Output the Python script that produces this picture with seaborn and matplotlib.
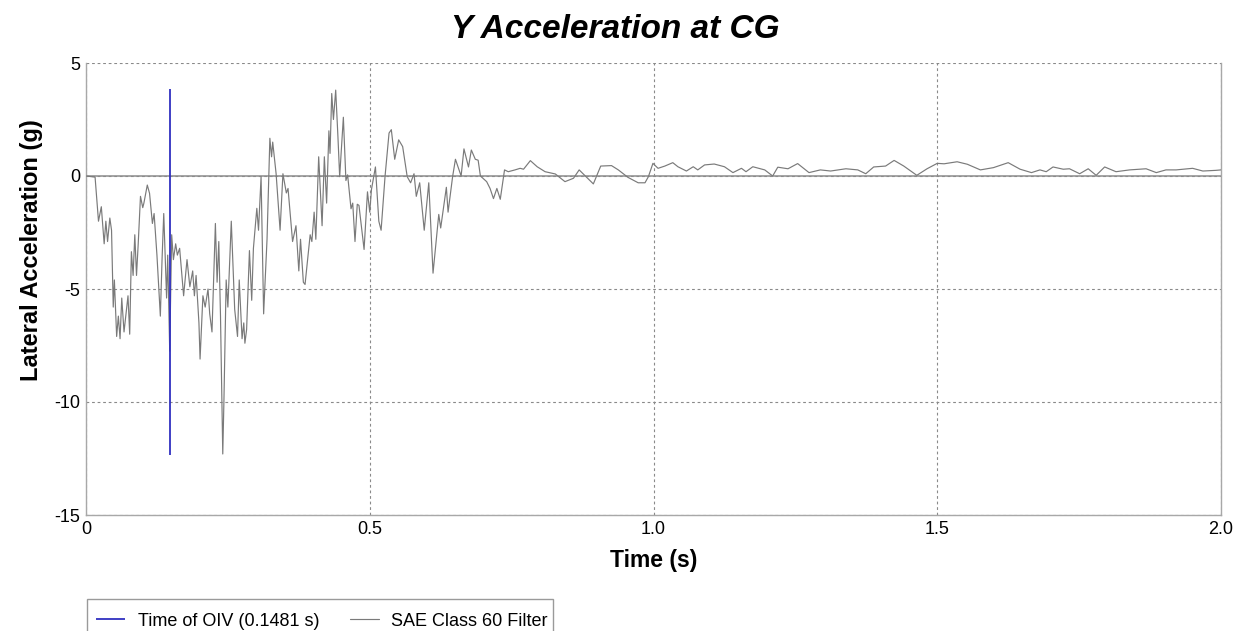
import matplotlib
matplotlib.use("Agg")
import matplotlib.pyplot as plt
import seaborn as sns
import pandas as pd
from matplotlib.ticker import MultipleLocator
from matplotlib.patches import Rectangle

# ---- data ----
time_s = [0.000, 0.016, 0.022, 0.027, 0.032, 0.035, 0.038, 0.042, 0.045, 0.048,
          0.050, 0.054, 0.057, 0.060, 0.063, 0.067, 0.074, 0.077, 0.080, 0.083,
          0.086, 0.089, 0.092, 0.096, 0.100, 0.102, 0.108, 0.112, 0.117, 0.120,
          0.125, 0.131, 0.134, 0.137, 0.142, 0.144, 0.1475, 0.151, 0.154, 0.158,
          0.161, 0.165, 0.172, 0.178, 0.183, 0.188, 0.191, 0.194, 0.199, 0.201,
          0.206, 0.210, 0.215, 0.218, 0.222, 0.225, 0.228, 0.231, 0.234, 0.237,
          0.241, 0.243, 0.247, 0.250, 0.256, 0.262, 0.267, 0.270, 0.275, 0.278,
          0.280, 0.283, 0.288, 0.292, 0.295, 0.301, 0.304, 0.3085, 0.313, 0.319,
          0.324, 0.327, 0.329, 0.335, 0.342, 0.347, 0.353, 0.356, 0.364, 0.370,
          0.375, 0.378, 0.383, 0.386, 0.395, 0.398, 0.402, 0.405, 0.410, 0.416,
          0.420, 0.424, 0.428, 0.430, 0.433, 0.436, 0.440, 0.444, 0.447, 0.4535,
          0.458, 0.461, 0.467, 0.470, 0.474, 0.478, 0.481, 0.490, 0.496, 0.500,
          0.503, 0.510, 0.516, 0.520, 0.527, 0.534, 0.538, 0.544, 0.551, 0.558,
          0.566, 0.572, 0.578, 0.582, 0.588, 0.596, 0.604, 0.6115, 0.6216, 0.625,
          0.635, 0.638, 0.646, 0.651, 0.661, 0.666, 0.674, 0.679, 0.686, 0.691,
          0.695, 0.706, 0.712, 0.718, 0.724, 0.730, 0.7375, 0.744, 0.756, 0.765,
          0.771, 0.783, 0.795, 0.809, 0.827, 0.844, 0.859, 0.869, 0.880, 0.894,
          0.907, 0.926, 0.938, 0.955, 0.973, 0.985, 0.991, 0.999, 1.008, 1.020,
          1.034, 1.043, 1.058, 1.070, 1.078, 1.090, 1.107, 1.125, 1.140, 1.155,
          1.163, 1.175, 1.196, 1.210, 1.219, 1.237, 1.254, 1.274, 1.294, 1.312,
          1.339, 1.360, 1.374, 1.388, 1.409, 1.424, 1.441, 1.464, 1.482, 1.500,
          1.512, 1.535, 1.553, 1.576, 1.599, 1.625, 1.646, 1.666, 1.681, 1.692,
          1.704, 1.722, 1.733, 1.751, 1.766, 1.780, 1.795, 1.815, 1.839, 1.868,
          1.886, 1.903, 1.921, 1.950, 1.968, 1.991, 2.000]

lateral_g = [0.0, -0.05, -2.0, -1.36, -3.0, -2.0, -2.9, -1.86, -2.4, -5.8,
             -4.6, -7.1, -6.2, -7.2, -5.4, -6.9, -5.3, -7.0, -3.35, -4.4,
             -2.6, -4.4, -3.0, -0.9, -1.4, -1.2, -0.4, -0.77, -2.1, -1.66,
             -3.5, -6.2, -3.7, -1.66, -5.4, -3.5, -7.75, -2.6, -3.7, -3.0,
             -3.5, -3.2, -5.3, -3.7, -4.9, -4.2, -5.3, -4.4, -6.5, -8.1,
             -5.3, -5.8, -5.0, -6.1, -6.9, -4.5, -2.1, -4.7, -2.9, -6.2,
             -12.3, -10.0, -4.6, -5.8, -2.0, -5.9, -7.1, -4.6, -7.2, -6.5,
             -7.4, -6.8, -3.3, -5.5, -3.2, -1.43, -2.4, -0.03, -6.1, -2.8,
             1.67, 0.85, 1.5, 0.1, -2.4, 0.1, -0.75, -0.55, -2.9, -2.2,
             -4.2, -2.8, -4.7, -4.8, -2.6, -2.9, -1.6, -2.8, 0.85, -2.2,
             0.85, -1.2, 2.0, 1.0, 3.65, 2.5, 3.8, 1.7, -0.03, 2.6,
             -0.2, 0.05, -1.45, -1.2, -2.9, -1.25, -1.3, -3.25, -0.7, -1.6,
             -0.6, 0.4, -2.0, -2.4, 0.0, 1.9, 2.05, 0.74, 1.6, 1.3,
             -0.03, -0.3, 0.1, -0.9, -0.3, -2.4, -0.3, -4.3, -1.7, -2.3,
             -0.5, -1.6, -0.03, 0.74, 0.0, 1.2, 0.4, 1.15, 0.74, 0.7,
             0.0, -0.25, -0.55, -1.0, -0.55, -1.03, 0.27, 0.19, 0.27, 0.34,
             0.3, 0.68, 0.41, 0.19, 0.09, -0.25, -0.1, 0.27, 0.0, -0.35,
             0.44, 0.46, 0.27, -0.06, -0.3, -0.3, -0.03, 0.56, 0.34, 0.44,
             0.59, 0.41, 0.22, 0.41, 0.27, 0.49, 0.53, 0.41, 0.15, 0.34,
             0.19, 0.41, 0.27, 0.0, 0.39, 0.32, 0.55, 0.15, 0.27, 0.22,
             0.32, 0.27, 0.1, 0.4, 0.44, 0.69, 0.44, 0.03, 0.32, 0.56,
             0.54, 0.63, 0.52, 0.27, 0.37, 0.59, 0.3, 0.15, 0.27, 0.19,
             0.4, 0.3, 0.32, 0.1, 0.32, 0.03, 0.4, 0.19, 0.27, 0.32,
             0.15, 0.27, 0.27, 0.34, 0.22, 0.25, 0.27]

oiv_time = 0.1481
oiv_range = [-12.35, 3.85]

title = "Y Acceleration at CG"
x_label = "Time (s)"
y_label = "Lateral Acceleration (g)"
x_ticks = [0, 0.5, 1.0, 1.5, 2.0]
x_tick_labels = ["0", "0.5", "1.0", "1.5", "2.0"]
y_ticks = [-15, -10, -5, 0, 5]
legend_labels = ["Time of OIV (0.1481 s)", "SAE Class 60 Filter"]

# ---- plot ----
sns.set_style("white")
plt.rcParams["font.family"] = ["Liberation Sans", "DejaVu Sans"]
plt.rcParams["axes.unicode_minus"] = False
plt.rcParams["text.color"] = "black"
plt.rcParams["axes.labelcolor"] = "black"

W, H = 1244, 631
fig = plt.figure(figsize=(W / 100, H / 100), dpi=100)
ax = fig.add_axes([86 / W, 1 - 515 / H, (1221 - 86) / W, (515 - 63) / H])

df = pd.DataFrame({"t": time_s, "a": lateral_g})

# zero reference line
ax.axhline(0, color="#8c8c8c", lw=1.1, zorder=2)

sns.lineplot(data=df, x="t", y="a", ax=ax, color="#7a7a7a", lw=0.85,
             estimator=None, sort=False, zorder=3, label=legend_labels[1])
ax.vlines(oiv_time, oiv_range[0], oiv_range[1], color="#3030c0", lw=1.3,
          zorder=4, label=legend_labels[0])

ax.set_xlim(0, 2.0)
ax.set_ylim(-15, 5)
ax.set_xticks(x_ticks)
ax.set_xticklabels(x_tick_labels)
ax.set_yticks(y_ticks)
ax.xaxis.set_minor_locator(MultipleLocator(0.1))
ax.yaxis.set_minor_locator(MultipleLocator(1))

ax.grid(True, which="major", linestyle=(0, (2.5, 2.5)), color="#8a8a8a", lw=0.8)
ax.tick_params(which="major", length=0, labelsize=13, pad=4, colors="black")
ax.tick_params(which="minor", direction="in", length=3, color="#9a9a9a", width=0.8)

for side in ["left", "bottom", "right"]:
    ax.spines[side].set_color("#a8a8a8")
    ax.spines[side].set_linewidth(1.0)
ax.spines["top"].set_visible(False)

ax.set_xlabel(x_label, fontsize=16.5, fontweight="bold", labelpad=8)
ax.set_ylabel(y_label, fontsize=17, fontweight="bold")
ax.yaxis.set_label_coords((43 - 86) / (1221 - 86), (515 - 250) / (515 - 63))
fig.suptitle(title, fontsize=24, fontweight="bold", fontstyle="italic",
             x=0.495, y=1 - 29 / H, va="center", color="black")

handles, labels = ax.get_legend_handles_labels()
order = [labels.index(legend_labels[0]), labels.index(legend_labels[1])]
leg = fig.legend([handles[i] for i in order], [labels[i] for i in order],
                 loc="center left", bbox_to_anchor=(96 / W, 1 - 621 / H),
                 borderaxespad=0, borderpad=0, ncol=2, frameon=False,
                 fontsize=13, handlelength=1.6, handletextpad=0.7,
                 columnspacing=1.7)
if ax.get_legend() is not None:
    ax.get_legend().remove()
# legend box (extends past the bottom edge of the figure, as in the reference)
fig.patches.append(Rectangle((87 / W, -0.05), (553 - 87) / W, (1 - 599 / H) + 0.05,
                             transform=fig.transFigure, fill=False,
                             edgecolor="#9a9a9a", lw=1.0))

fig.savefig("out.png", dpi=100)
